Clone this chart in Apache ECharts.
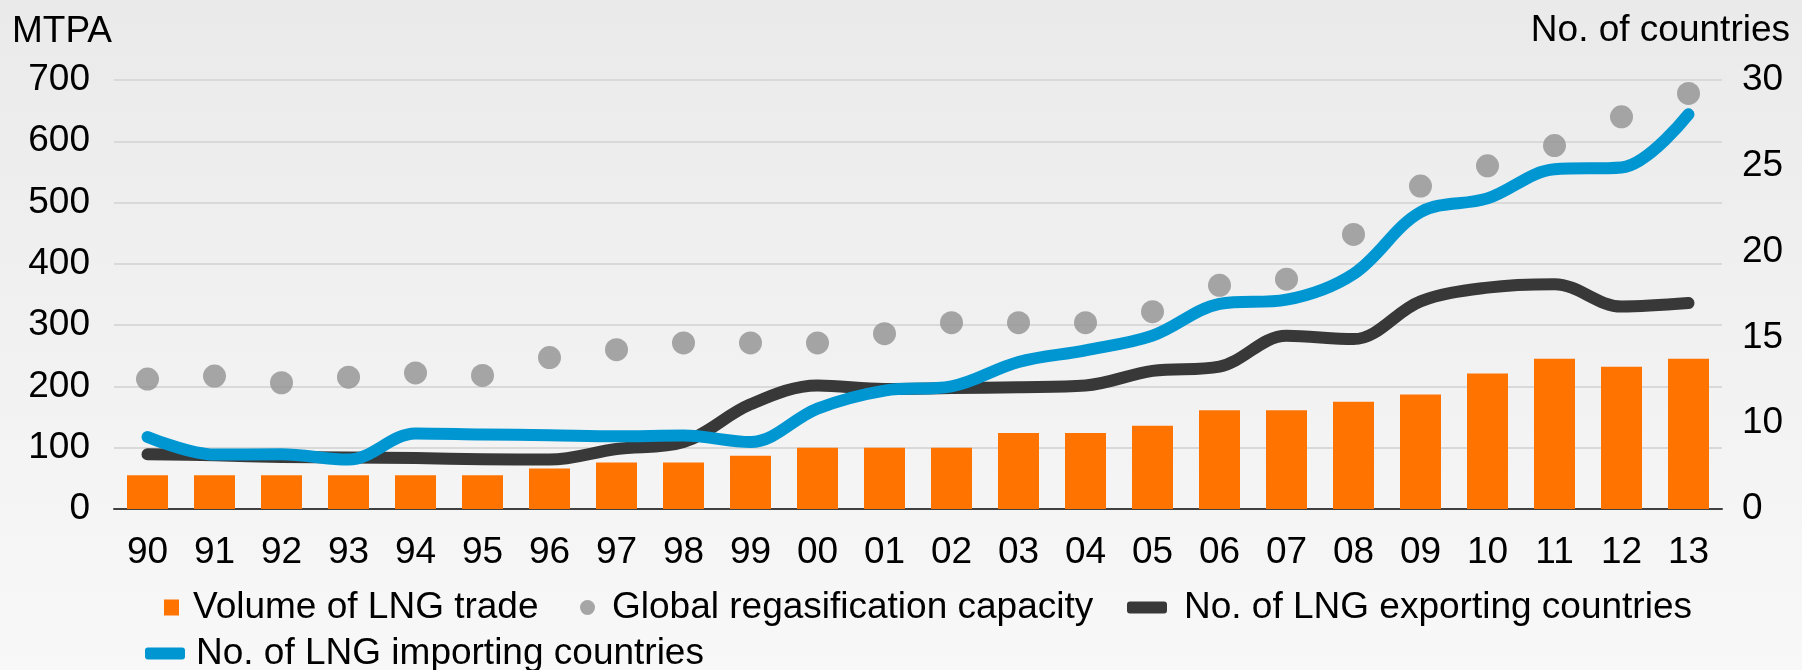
<!DOCTYPE html>
<html>
<head>
<meta charset="utf-8">
<script src="https://cdn.jsdelivr.net/npm/echarts@6/dist/echarts.min.js"></script>
<style>
  html, body { margin: 0; padding: 0; }
  #chart {
    width: 1802px;
    height: 670px;
    background: linear-gradient(to bottom, #eaeaea 0%, #efefef 35%, #f8f8f8 100%);
  }
</style>
</head>
<body>
<div id="chart"></div>
<script>
// Years (two-digit labels), 1990 - 2013
const years = ['90', '91', '92', '93', '94', '95', '96', '97', '98', '99', '00', '01',
               '02', '03', '04', '05', '06', '07', '08', '09', '10', '11', '12', '13'];

// Volume of LNG trade, MTPA (left axis)
const lngTrade = [55, 55, 55, 55, 55, 55, 66, 76, 76, 87, 100, 100,
                  100, 124, 124, 136, 161, 161, 175, 187, 221, 245, 232, 245];

// Global regasification capacity, MTPA (left axis)
const regasCapacity = [212, 217, 206, 215, 222, 218, 247, 260, 271, 271, 271, 286,
                       304, 304, 304, 322, 365, 375, 448, 527, 560, 593, 640, 678];

// Number of LNG exporting countries (right axis)
const exportingCountries = [8.19, 8.13, 8.03, 8.0, 7.97, 7.9, 7.88, 8.5, 8.9, 11.1, 12.2, 12.0,
                            12.05, 12.1, 12.2, 13.05, 13.3, 15.1, 14.9, 17.1, 17.9, 18.1, 16.8, 17.0];

// Number of LNG importing countries (right axis)
const importingCountries = [9.2, 8.17, 8.19, 7.88, 9.4, 9.34, 9.3, 9.24, 9.28, 8.9, 10.85, 11.9,
                            12.15, 13.57, 14.25, 15.1, 16.95, 17.2, 18.7, 22.3, 23.1, 24.8, 24.9, 28.0];

// Right axis: bottom tick carries the label "0"
const rightAxisBottomLabel = '0';

const FONT = "'Liberation Sans', Arial, sans-serif";
const FS = 37;
const C_TRADE = '#ff7300';
const C_REGAS = '#919191';
const C_EXP = '#383838';
const C_IMP = '#0096d2';

const chart = echarts.init(document.getElementById('chart'), null, { renderer: 'canvas' });

const textStyle = { fontFamily: FONT, fontSize: FS, color: '#000', fontWeight: 'normal' };

function legendItem(name, left, top, icon, w, h, color, padLeft) {
  return {
    data: [{ name: name, icon: icon, itemStyle: { color: color } }],
    left: left, top: top, padding: 0,
    itemWidth: w, itemHeight: h,
    selectedMode: false,
    textStyle: Object.assign({}, textStyle, { padding: [0, 0, 0, padLeft] })
  };
}

chart.setOption({
  animation: false,
  backgroundColor: 'transparent',
  textStyle: { fontFamily: FONT },
  title: [
    { text: 'MTPA', left: 12, top: 13, padding: 0, textStyle: textStyle },
    { text: 'No. of countries', right: 12, top: 12, padding: 0, textStyle: textStyle }
  ],
  legend: [
    legendItem('Volume of LNG trade', 164, 589, 'rect', 15, 16, C_TRADE, 9),
    legendItem('Global regasification capacity', 580, 589, 'circle', 15, 15, C_REGAS, 12),
    legendItem('No. of LNG exporting countries', 1127, 589, 'roundRect', 40, 12, C_EXP, 12),
    legendItem('No. of LNG importing countries', 145, 635, 'roundRect', 40, 12, C_IMP, 6)
  ],
  grid: { left: 114, right: 80, top: 80, bottom: 161, containLabel: false },
  xAxis: {
    type: 'category',
    data: years,
    boundaryGap: true,
    axisLine: { show: true, lineStyle: { color: '#404040', width: 2 } },
    axisTick: { show: false },
    axisLabel: Object.assign({}, textStyle, { interval: 0, margin: 25 }),
    splitLine: { show: false }
  },
  yAxis: [
    {
      type: 'value',
      min: 0, max: 700, interval: 100,
      axisLine: { show: false },
      axisTick: { show: false },
      axisLabel: Object.assign({}, textStyle, { margin: 24 }),
      splitLine: { show: true, lineStyle: { color: '#d9d9d9', width: 2 } }
    },
    {
      type: 'value',
      position: 'right',
      min: 5, max: 30, interval: 5,
      axisLine: { show: false },
      axisTick: { show: false },
      axisLabel: Object.assign({}, textStyle, {
        margin: 20,
        formatter: function (v) { return v === 5 ? rightAxisBottomLabel : String(v); }
      }),
      splitLine: { show: false }
    }
  ],
  series: [
    {
      name: 'Volume of LNG trade',
      type: 'bar',
      yAxisIndex: 0,
      data: lngTrade,
      barWidth: 41,
      itemStyle: { color: C_TRADE }
    },
    {
      name: 'Global regasification capacity',
      type: 'scatter',
      yAxisIndex: 0,
      data: regasCapacity,
      symbol: 'circle',
      symbolSize: 23,
      itemStyle: { color: C_REGAS }
    },
    {
      name: 'No. of LNG exporting countries',
      type: 'line',
      yAxisIndex: 1,
      data: exportingCountries,
      smooth: 0.35,
      symbol: 'none',
      showSymbol: false,
      itemStyle: { color: C_EXP },
      lineStyle: { color: C_EXP, width: 12, cap: 'round', join: 'round' }
    },
    {
      name: 'No. of LNG importing countries',
      type: 'line',
      yAxisIndex: 1,
      data: importingCountries,
      smooth: 0.35,
      symbol: 'none',
      showSymbol: false,
      itemStyle: { color: C_IMP },
      lineStyle: { color: C_IMP, width: 12, cap: 'round', join: 'round' }
    }
  ]
});
</script>
</body>
</html>
